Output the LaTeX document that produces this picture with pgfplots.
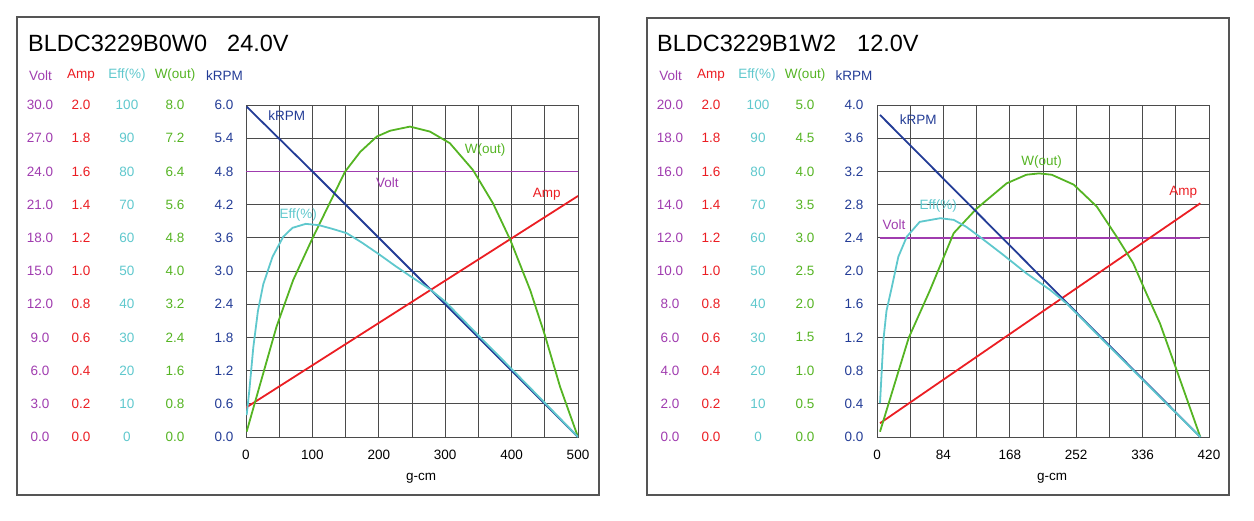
\documentclass[border=0pt]{standalone}
\usepackage{pgfplots}
\pgfplotsset{compat=1.18}
\usepackage{fontspec}
\setmainfont{Liberation Sans}
\definecolor{cvolt}{RGB}{160,60,175}
\definecolor{camp}{RGB}{235,30,35}
\definecolor{ceff}{RGB}{95,200,205}
\definecolor{cw}{RGB}{85,180,35}
\definecolor{crpm}{RGB}{35,60,150}
\definecolor{gridc}{RGB}{75,75,75}
\definecolor{boxc}{RGB}{85,85,85}
\newcommand{\fs}{\fontsize{13.5bp}{16bp}\selectfont}
\newcommand{\ft}{\fontsize{23.5bp}{28bp}\selectfont}
\pgfplotsset{
  panel/.style={scale only axis, width=332bp, height=332bp, anchor=south west},
  base/.style={panel, grid=both,
    major grid style={draw=gridc, line width=1bp},
    minor grid style={draw=gridc, line width=1bp},
    axis line style={draw=gridc, line width=1bp},
    major tick length=0pt, minor tick length=0pt, tick style={draw=none},
    xticklabel style={font=\fs, yshift=-10bp},
    xlabel={g-cm},
    xlabel style={font=\fs, at={(axis description cs:0.5,0)}, anchor=center, yshift=-41bp, xshift=9bp}},
  over/.style={panel, axis line style={draw=none}, xtick=\empty,
    major tick length=0pt, tick style={draw=none}},
  ylab/.style 2 args={yticklabel style={anchor=center, xshift=#1, font=\fs, text=#2}},
  curve/.style={line width=1.8bp, no markers, #1},
}
\begin{document}
\begin{tikzpicture}
\path (0,0) rectangle (1254bp,-521bp);
% ---------- boxes and titles
\draw[boxc, line width=1.3bp] (17bp,-17bp) rectangle (599bp,-495bp);
\draw[boxc, line width=1.3bp] (647bp,-18bp) rectangle (1229bp,-495bp);
\node[anchor=base west, inner sep=0, font=\ft] at (28bp,-51.5bp) {BLDC3229B0W0};
\node[anchor=base west, inner sep=0, font=\ft] at (227bp,-51.5bp) {24.0V};
\node[anchor=base west, inner sep=0, font=\ft] at (657bp,-51.5bp) {BLDC3229B1W2};
\node[anchor=base west, inner sep=0, font=\ft] at (857bp,-51.5bp) {12.0V};
% headers
\foreach \cx/\tx/\cc in {40.5/Volt/cvolt, 81/Amp/camp, 127/Eff(\%)/ceff, 175/W(out)/cw, 224.5/kRPM/crpm,
                       670.5/Volt/cvolt, 711/Amp/camp, 757/Eff(\%)/ceff, 805/W(out)/cw, 854/kRPM/crpm}
  \node[font=\fs, text=\cc] at (\cx bp,-75.5bp) {\tx};

% ================= LEFT PANEL =================
\begin{axis}[base, at={(246bp,-437bp)}, xmin=0, xmax=500, ymin=0, ymax=6,
  xtick={0,100,200,300,400,500}, xticklabels={0,100,200,300,400,500},
  minor xtick={50,150,250,350,450},
  ytick={0,0.6,1.2,1.8,2.4,3.0,3.6,4.2,4.8,5.4,6.0},
  yticklabels={0.0,0.6,1.2,1.8,2.4,3.0,3.6,4.2,4.8,5.4,6.0},
  ylab={-22bp}{crpm}]
\end{axis}
\begin{axis}[over, at={(246bp,-437bp)}, xmin=0, xmax=500, ymin=0, ymax=30,
  ytick={0,3,6,9,12,15,18,21,24,27,30},
  yticklabels={0.0,3.0,6.0,9.0,12.0,15.0,18.0,21.0,24.0,27.0,30.0},
  ylab={-206bp}{cvolt}]
\addplot[curve=cvolt] coordinates {(0,24) (500,24)};
\draw[cvolt, line width=1.8bp] (axis cs:0,24) -- (axis cs:500,24);
\end{axis}
\begin{axis}[over, at={(246bp,-437bp)}, xmin=0, xmax=500, ymin=0, ymax=2,
  ytick={0,0.2,0.4,0.6,0.8,1.0,1.2,1.4,1.6,1.8,2.0},
  yticklabels={0.0,0.2,0.4,0.6,0.8,1.0,1.2,1.4,1.6,1.8,2.0},
  ylab={-165bp}{camp}]
\addplot[curve=camp] coordinates {(0,0.177) (100,0.432) (200,0.687) (300,0.942) (400,1.197) (500,1.452)};
\end{axis}
\begin{axis}[over, at={(246bp,-437bp)}, xmin=0, xmax=500, ymin=0, ymax=8,
  ytick={0,0.8,1.6,2.4,3.2,4.0,4.8,5.6,6.4,7.2,8.0},
  yticklabels={0.0,0.8,1.6,2.4,3.2,4.0,4.8,5.6,6.4,7.2,8.0},
  ylab={-71bp}{cw}]
\addplot[curve=cw] coordinates {(1,0.13) (20,1.2) (46,2.66) (71,3.78) (99,4.75) (149,6.39) (172,6.87) (197,7.24) (217,7.38) (247,7.48) (277,7.36) (307,7.08) (342,6.43) (372,5.63) (398,4.75) (428,3.54) (450,2.46) (473,1.21) (500,0)};
\end{axis}
\begin{axis}[over, at={(246bp,-437bp)}, xmin=0, xmax=500, ymin=0, ymax=6, ytick=\empty]
\addplot[curve=crpm] coordinates {(1,5.97) (100,4.8) (200,3.6) (300,2.4) (400,1.2) (500,0)};
\end{axis}
\begin{axis}[over, at={(246bp,-437bp)}, xmin=0, xmax=500, ymin=0, ymax=100,
  ytick={0,10,20,30,40,50,60,70,80,90,100},
  yticklabels={0,10,20,30,40,50,60,70,80,90,100},
  ylab={-119bp}{ceff}]
\addplot[curve=ceff] coordinates {(1,6.6) (5,14) (11,27) (18,38) (26,46) (40,54.3) (56,60.3) (70,63) (90,64.2) (110,63.8) (130,62.7) (151.6,61.4) (175,58.5) (202,54.8) (225,51.5) (251.5,47.9) (277,44.5) (300,40.8) (350,30.6) (400,20.5) (450,10.3) (500,0)};
\node[font=\fs, text=crpm] at (axis cs:61.3,96.7) {kRPM};
\node[font=\fs, text=cw] at (axis cs:360,86.5) {W(out)};
\node[font=\fs, text=cvolt] at (axis cs:212.8,76.6) {Volt};
\node[font=\fs, text=camp] at (axis cs:452.9,73.1) {Amp};
\node[font=\fs, text=ceff] at (axis cs:78.8,66.9) {Eff(\%)};
\end{axis}

% ================= RIGHT PANEL =================
\begin{axis}[base, at={(877bp,-437bp)}, xmin=0, xmax=420, ymin=0, ymax=20,
  xtick={0,84,168,252,336,420}, xticklabels={0,84,168,252,336,420},
  minor xtick={42,126,210,294,378},
  ytick={0,2,4,6,8,10,12,14,16,18,20},
  yticklabels={0.0,2.0,4.0,6.0,8.0,10.0,12.0,14.0,16.0,18.0,20.0},
  ylab={-207bp}{cvolt}]
\addplot[curve=cvolt] coordinates {(4,12) (409,12)};
\end{axis}
\begin{axis}[over, at={(877bp,-437bp)}, xmin=0, xmax=420, ymin=0, ymax=2,
  ytick={0,0.2,0.4,0.6,0.8,1.0,1.2,1.4,1.6,1.8,2.0},
  yticklabels={0.0,0.2,0.4,0.6,0.8,1.0,1.2,1.4,1.6,1.8,2.0},
  ylab={-166bp}{camp}]
\addplot[curve=camp] coordinates {(3.8,0.083) (100,0.398) (200,0.725) (300,1.052) (409,1.408)};
\end{axis}
\begin{axis}[over, at={(877bp,-437bp)}, xmin=0, xmax=420, ymin=0, ymax=5,
  ytick={0,0.5,1.0,1.5,2.0,2.5,3.0,3.5,4.0,4.5,5.0},
  yticklabels={0.0,0.5,1.0,1.5,2.0,2.5,3.0,3.5,4.0,4.5,5.0},
  ylab={-72bp}{cw}]
\addplot[curve=cw] coordinates {(3.8,0.08) (40,1.49) (67,2.21) (97,3.07) (126,3.44) (164,3.82) (189,3.95) (205,3.97) (221,3.95) (249,3.80) (278,3.47) (303,3.02) (324,2.62) (339,2.21) (358,1.71) (379,1.01) (409,0)};
\end{axis}
\begin{axis}[over, at={(877bp,-437bp)}, xmin=0, xmax=420, ymin=0, ymax=4,
  ytick={0,0.4,0.8,1.2,1.6,2.0,2.4,2.8,3.2,3.6,4.0},
  yticklabels={0.0,0.4,0.8,1.2,1.6,2.0,2.4,2.8,3.2,3.6,4.0},
  ylab={-23bp}{crpm}]
\addplot[curve=crpm] coordinates {(3.8,3.88) (100,2.959) (200,2.001) (300,1.044) (409,0)};
\end{axis}
\begin{axis}[over, at={(877bp,-437bp)}, xmin=0, xmax=420, ymin=0, ymax=100,
  ytick={0,10,20,30,40,50,60,70,80,90,100},
  yticklabels={0,10,20,30,40,50,60,70,80,90,100},
  ylab={-119bp}{ceff}]
\addplot[curve=ceff] coordinates {(3.8,10.2) (8,29) (12,38) (18.6,45) (27,54.3) (37.6,60.3) (54,64.8) (80,65.9) (97,65.4) (113,63.3) (130,60.3) (160,54.8) (189,49.3) (219,44.3) (240,40.2) (260,35.4) (300,25.8) (350,13.9) (409,0)};
\node[font=\fs, text=crpm] at (axis cs:52.2,95.7) {kRPM};
\node[font=\fs, text=cw] at (axis cs:208.4,82.9) {W(out)};
\node[font=\fs, text=camp] at (axis cs:387.5,73.6) {Amp};
\node[font=\fs, text=ceff] at (axis cs:77.5,69.6) {Eff(\%)};
\node[font=\fs, text=cvolt] at (axis cs:21.5,63.9) {Volt};
\end{axis}
\end{tikzpicture}
\end{document}
